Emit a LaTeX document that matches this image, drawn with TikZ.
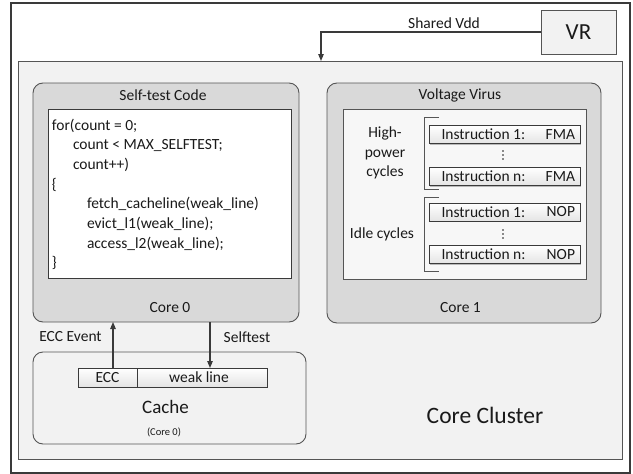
\documentclass[tikz,border=0pt]{standalone}
\usepackage{fontspec}
\setmainfont{Carlito}
\usetikzlibrary{arrows.meta,calc,shadows}

\definecolor{ink}{HTML}{1A1A1A}
\definecolor{edgedark}{HTML}{3A3A3A}
\definecolor{edgemid}{HTML}{555555}
\definecolor{clusterfill}{HTML}{F2F2F2}
\definecolor{corefill}{HTML}{D9D9D9}
\definecolor{panelfill}{HTML}{F7F7F7}
\definecolor{cellbottom}{HTML}{E4E4E4}

\begin{document}
\begin{tikzpicture}[x=1pt,y=-1pt,
  font=\fontsize{15.5}{19.7}\selectfont, text=ink,
  box/.style={draw=edgemid, line width=0.9pt, inner sep=0pt, outer sep=0pt, anchor=north west},
  corebox/.style={box, fill=corefill, rounded corners=10pt},
  cell/.style={box, draw=edgedark, top color=white, bottom color=cellbottom},
  instr/.style={cell, minimum width=151pt, minimum height=18pt,
    drop shadow={shadow xshift=1pt, shadow yshift=-1pt, fill=black, opacity=0.25}},
  label/.style={inner sep=0pt, outer sep=0pt},
  codeline/.style={label, anchor=base west},
  wire/.style={draw=edgedark, line width=1.1pt},
  arrowwire/.style={wire, -{Triangle[length=7pt,width=5.5pt]}},
  bracketline/.style={draw=edgemid, line width=0.8pt}
]
\useasboundingbox (0,0) rectangle (633,474);

% frames
\node[box, draw=edgedark, line width=1.3pt, fill=white, minimum width=619pt, minimum height=470pt] (outer) at (11,3) {};
\node[box, fill=clusterfill, minimum width=604pt, minimum height=398pt] (cluster) at (18,61) {};
\node[box, fill=clusterfill, minimum width=75pt, minimum height=44pt] (vr) at (541,10) {};
\node[label, font=\fontsize{23}{26}\selectfont] (vrtext) at (578.5,32) {VR};

% shared supply line
\coordinate (vddin) at (321,61);
\path[arrowwire] (vr.west) -| (vddin);
\node[label] (vddlabel) at (444,23) {Shared Vdd};

% core 0 with self-test code
\node[corebox, minimum width=266pt, minimum height=239pt] (core0) at (33,83) {};
\node[label] (core0title) at (163,95) {Self-test Code};
\node[box, draw=edgedark, fill=white, minimum width=243pt, minimum height=169pt] (code) at (48,109) {};
\node[codeline] (c1) at (52,130) {for(count = 0;};
\node[codeline] (c2) at (73,149.7) {count < MAX\_SELFTEST;};
\node[codeline] (c3) at (73,169.4) {count++)};
\node[codeline] (c4) at (52,189.1) {\{};
\node[codeline] (c5) at (87,208.8) {fetch\_cacheline(weak\_line)};
\node[codeline] (c6) at (87,228.5) {evict\_l1(weak\_line);};
\node[codeline] (c7) at (87,248.2) {access\_l2(weak\_line);};
\node[codeline] (c8) at (52,267.9) {\}};
\node[label] (core0name) at (170,308) {Core 0};

% core 1 with voltage virus
\node[corebox, minimum width=274pt, minimum height=240pt] (core1) at (327,83) {};
\node[label] (core1title) at (460,95) {Voltage Virus};
\node[box, fill=panelfill, minimum width=243pt, minimum height=170pt] (virus) at (343,109) {};
\node[label, align=center] (hp) at (385,153) {High-\\power\\cycles};
\node[label] (idle) at (382,234) {Idle cycles};
\path[bracketline] (439,117) -- (424,117) -- (424,189) -- (439,189);
\path[bracketline] (439,197) -- (424,197) -- (424,271) -- (439,271);

\node[instr] (fma1) at (429,125.5) {};
\node[instr] (fman) at (429,167.5) {};
\node[instr] (nop1) at (429,203) {};
\node[instr] (nopn) at (429,245.5) {};
\foreach \b/\n/\op in {fma1/1/FMA, fman/n/FMA, nop1/1/NOP, nopn/n/NOP}{
  \node[label, anchor=west] at ($(\b.west)+(12.5,0)$) {Instruction \n:};
  \node[label, anchor=east] at ($(\b.east)+(-5,0)$) {\op};
}
\foreach \yc in {155,234}{
  \foreach \d in {-4,0,4}{
    \fill[ink] (503,\yc+\d) circle[radius=0.8pt];
  }
}
\node[label] (core1name) at (460.5,308) {Core 1};

% cache of core 0
\node[corebox, fill=clusterfill, minimum width=273pt, minimum height=92pt] (cache) at (33,352) {};
\node[cell, minimum width=59pt, minimum height=19pt] (ecc) at (78,368) {};
\node[cell, minimum width=130pt, minimum height=19pt] (weak) at (137,368) {};
\node[label] (ecctext) at (107.5,377.5) {ECC};
\node[label] (weaktext) at (199,377.5) {weak line};
\node[label, font=\fontsize{19}{22}\selectfont] (cachename) at (165.5,407) {Cache};
\node[label, font=\fontsize{10.5}{12}\selectfont] (cacheowner) at (164,432) {(Core 0)};

% core 0 <-> cache signals
\coordinate (eccup) at (113,368);
\coordinate (testdown) at (210,322);
\path[arrowwire] (eccup) -- (eccup |- core0.south);
\path[arrowwire] (testdown) -- (testdown |- weak.north);
\node[label] (ecclabel) at (70.5,337) {ECC Event};
\node[label] (testlabel) at (247,337) {Selftest};

\node[label, font=\fontsize{23.5}{26}\selectfont] (clustername) at (485,415) {Core Cluster};
\end{tikzpicture}
\end{document}
